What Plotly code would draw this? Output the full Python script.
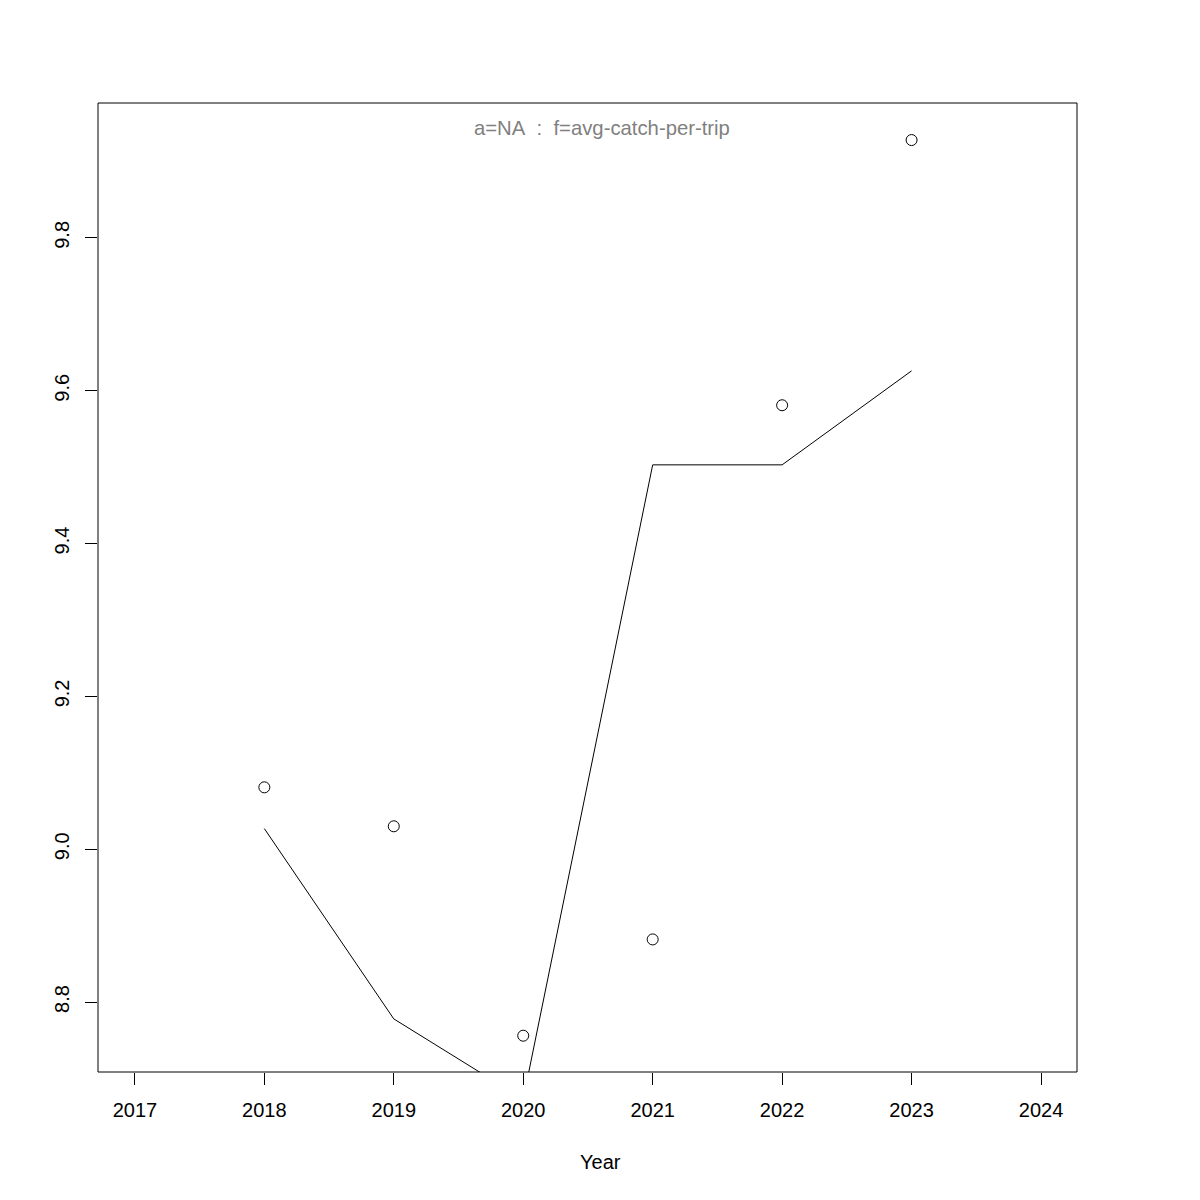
import plotly.graph_objects as go

years = [2018, 2019, 2020, 2021, 2022, 2023]
observed = [9.081, 9.030, 8.756, 8.882, 9.581, 9.928]
fitted = [9.027, 8.778, 8.673, 9.503, 9.503, 9.626]
x_ticks = [2017, 2018, 2019, 2020, 2021, 2022, 2023, 2024]
y_ticks = [8.8, 9.0, 9.2, 9.4, 9.6, 9.8]
title_text = "a=NA\u00a0\u00a0:\u00a0\u00a0f=avg-catch-per-trip"
x_label = "Year"

FONT = "Liberation Sans, Arial, Helvetica, sans-serif"

fig = go.Figure()
fig.add_trace(go.Scatter(x=years, y=fitted, mode="lines",
                         line=dict(color="black", width=1), cliponaxis=True,
                         showlegend=False))
fig.add_trace(go.Scatter(x=years, y=observed, mode="markers",
                         marker=dict(symbol="circle-open", size=11,
                                     color="black", line=dict(width=1)),
                         showlegend=False))

L, R, T, B = 98, 1077, 102.5, 1072.5
W, H = 1200, 1200
OFF = 8  # page body offset

fig.update_layout(
    width=W, height=H,
    margin=dict(l=L - OFF, r=W - R + OFF, t=T - OFF, b=H - B + OFF, pad=0),
    paper_bgcolor="white", plot_bgcolor="white",
    font=dict(family=FONT, size=20, color="black"),
    xaxis=dict(range=[2016.715, 2024.278], tickvals=x_ticks,
               ticktext=[str(v) for v in x_ticks],
               showgrid=False, zeroline=False, showline=False,
               ticks="outside", ticklen=12, tickwidth=1, tickcolor="black",
               ticklabelstandoff=8),
    yaxis=dict(range=[8.7085, 9.9765], tickvals=y_ticks,
               ticktext=[f"{v:.1f}" for v in y_ticks],
               showgrid=False, zeroline=False, showline=False,
               ticks="outside", ticklen=12, tickwidth=1, tickcolor="black",
               tickangle=-90, ticklabelstandoff=8),
    showlegend=False,
)

fig.add_shape(type="rect", xref="paper", yref="paper", x0=0, x1=1, y0=0, y1=1,
              line=dict(color="black", width=1), fillcolor="rgba(0,0,0,0)",
              layer="above")

fig.add_annotation(text=title_text, xref="paper", yref="paper",
                   x=(602 - L) / (R - L), y=(B - 128) / (B - T),
                   xanchor="center", yanchor="middle", showarrow=False,
                   font=dict(family=FONT, size=20.3, color="#808080"))
fig.add_annotation(text=x_label, xref="paper", yref="paper",
                   x=(600 - L) / (R - L), y=(B - 1163) / (B - T),
                   xanchor="center", yanchor="middle", showarrow=False,
                   font=dict(family=FONT, size=20, color="black"))

fig.write_html("out.html")
